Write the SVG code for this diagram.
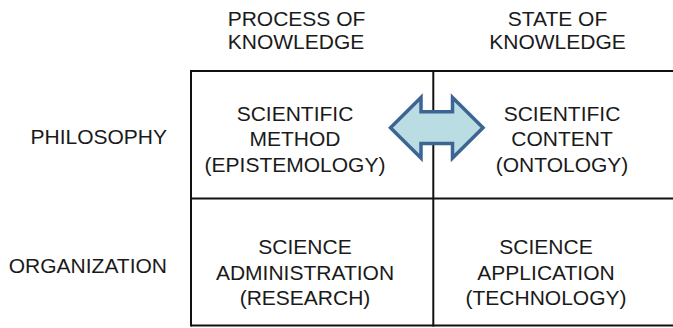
<svg xmlns="http://www.w3.org/2000/svg" width="673" height="328" viewBox="0 0 673 328">
<style>
.t{font-family:"Liberation Sans",Arial,Helvetica,sans-serif;font-size:21px;fill:#1a1a1a;text-anchor:middle}
.r{text-anchor:end}
.g{stroke:#111;stroke-width:2;fill:none}
.arr{fill:#b9dde3;stroke:#3d6594;stroke-width:3.5;stroke-linejoin:miter}
</style>
<rect width="673" height="328" fill="#fff"/>
<g id="headers">
<text class="t" x="296.5" y="25.7">PROCESS OF</text>
<text class="t" x="296" y="49.3">KNOWLEDGE</text>
<text class="t" x="557.5" y="25.7">STATE OF</text>
<text class="t" x="557.5" y="49.3">KNOWLEDGE</text>
</g>
<g id="rowlabels">
<text class="t r" x="167" y="144.3">PHILOSOPHY</text>
<text class="t r" x="167" y="273.3">ORGANIZATION</text>
</g>
<g id="grid">
<line class="g" x1="191" y1="71" x2="673" y2="71"/>
<line class="g" x1="191" y1="198.5" x2="673" y2="198.5"/>
<line class="g" x1="191" y1="325.5" x2="673" y2="325.5"/>
<line class="g" x1="191" y1="70" x2="191" y2="326.5"/>
<line class="g" x1="433.3" y1="70" x2="433.3" y2="326.5"/>
</g>
<g id="method">
<text class="t" x="295" y="121">SCIENTIFIC</text>
<text class="t" x="295" y="146.4">METHOD</text>
<text class="t" x="295" y="171.7">(EPISTEMOLOGY)</text>
</g>
<g id="content">
<text class="t" x="562" y="121">SCIENTIFIC</text>
<text class="t" x="562" y="146.4">CONTENT</text>
<text class="t" x="562" y="171.7">(ONTOLOGY)</text>
</g>
<g id="administration">
<text class="t" x="305" y="254">SCIENCE</text>
<text class="t" x="305" y="279.5">ADMINISTRATION</text>
<text class="t" x="305" y="305">(RESEARCH)</text>
</g>
<g id="application">
<text class="t" x="546" y="254">SCIENCE</text>
<text class="t" x="546" y="279.5">APPLICATION</text>
<text class="t" x="546" y="305">(TECHNOLOGY)</text>
</g>
<g id="connectors">
<path class="arr" d="M390.5,127.7 L421,97.5 L421,111.8 L452.5,111.8 L452.5,97.5 L483,127.7 L452.5,158 L452.5,143.5 L421,143.5 L421,158 Z"/>
</g>
</svg>
